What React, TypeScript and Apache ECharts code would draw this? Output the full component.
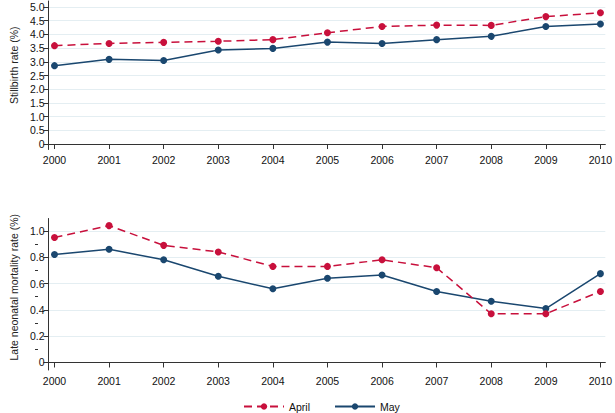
import React, { useEffect, useRef } from "react";
import * as echarts from "echarts";

const years = [2000, 2001, 2002, 2003, 2004, 2005, 2006, 2007, 2008, 2009, 2010];
const stillApril = [3.59, 3.67, 3.71, 3.75, 3.81, 4.06, 4.29, 4.34, 4.33, 4.65, 4.79];
const stillMay = [2.86, 3.09, 3.05, 3.43, 3.49, 3.72, 3.67, 3.81, 3.93, 4.29, 4.38];
const lateApril = [0.95, 1.04, 0.89, 0.84, 0.73, 0.73, 0.78, 0.72, 0.37, 0.37, 0.54];
const lateMay = [0.82, 0.86, 0.78, 0.655, 0.56, 0.64, 0.665, 0.54, 0.465, 0.41, 0.675];
const stillTicks = [0, 0.5, 1, 1.5, 2, 2.5, 3, 3.5, 4, 4.5, 5];
const lateTicks = [0, 0.2, 0.4, 0.6, 0.8, 1.0];
const lateMinorTicks = [0.1, 0.3, 0.5, 0.7, 0.9];

const RED = "#c8103c";
const BLUE = "#1a476f";
const FONT = "Liberation Sans";
const GRIDC = "#e4eef2";
const FS = 10.5;

const fmt = (v: number) => (Math.abs(v) < 1e-9 ? "0" : Number(v).toFixed(1));

function xAxisFor(gridIndex: number) {
  return {
    type: "value",
    gridIndex,
    min: 1999.89,
    max: 2010.09,
    axisLine: { show: true, lineStyle: { color: "#333", width: 1 } },
    axisTick: { show: true, customValues: years, length: 5, lineStyle: { color: "#333" } },
    axisLabel: {
      show: true,
      customValues: years,
      formatter: (v: number) => String(Math.round(v)),
      color: "#111",
      fontFamily: FONT,
      fontSize: FS,
      margin: 5,
    },
    splitLine: { show: false },
  };
}

export default function App() {
  const ref = useRef<HTMLDivElement>(null);
  useEffect(() => {
    if (!ref.current) return;
    const chart = echarts.init(ref.current, undefined, { renderer: "svg" });
    const pairs = (ys: number[]) => years.map((y, i) => [y, ys[i]]);
    const base = {
      type: "line",
      symbol: "circle",
      symbolSize: 7,
    };
    chart.setOption({
      animation: false,
      backgroundColor: "#fff",
      textStyle: { fontFamily: FONT },
      grid: [
        { left: 38, right: 7, top: 1, height: 148.5 },
        { left: 38, right: 7, top: 218.5, height: 151.5 },
        { left: 38, right: 7, top: 218.5, height: 151.5 },
      ],
      xAxis: [
        xAxisFor(0),
        xAxisFor(1),
        { type: "value", gridIndex: 2, min: 1999.89, max: 2010.09, show: false },
      ],
      yAxis: [
        {
          type: "value",
          gridIndex: 0,
          position: "left",
          min: -0.2,
          max: 5.22,
          name: "Stillbirth rate (%)",
          nameLocation: "middle",
          nameGap: 28,
          nameTextStyle: { fontFamily: FONT, fontSize: FS, color: "#222", padding: [0, 0, 0, 20] },
          axisLine: { show: true, lineStyle: { color: "#333" } },
          axisTick: { show: true, customValues: stillTicks, length: 5, lineStyle: { color: "#333" } },
          axisLabel: { customValues: stillTicks, formatter: fmt, color: "#111", fontSize: FS, fontFamily: FONT, margin: 4 },
          splitLine: { show: true, lineStyle: { color: GRIDC, width: 1 } },
        },
        {
          type: "value",
          gridIndex: 1,
          position: "left",
          min: -0.057,
          max: 1.094,
          name: "Late neonatal mortality rate (%)",
          nameLocation: "middle",
          nameGap: 28,
          nameTextStyle: { fontFamily: FONT, fontSize: FS, color: "#222", padding: [0, 0, 0, 14] },
          axisLine: { show: true, lineStyle: { color: "#333" } },
          axisTick: { show: true, customValues: lateTicks, length: 5, lineStyle: { color: "#333" } },
          axisLabel: { customValues: lateTicks, formatter: fmt, color: "#111", fontSize: FS, fontFamily: FONT, margin: 4 },
          splitLine: { show: true, lineStyle: { color: GRIDC, width: 1 } },
        },
        {
          type: "value",
          gridIndex: 2,
          position: "left",
          min: -0.057,
          max: 1.094,
          axisLine: { show: false },
          axisTick: { show: true, customValues: lateMinorTicks, length: 3, lineStyle: { color: "#333" } },
          axisLabel: { show: false },
          splitLine: { show: false },
        },
      ],
      legend: {
        top: 396,
        left: 238,
        itemWidth: 40,
        itemHeight: 8,
        itemGap: 24,
        textStyle: { fontFamily: FONT, fontSize: FS, color: "#111" },
        data: ["April", "May"],
      },
      series: [
        {
          ...base,
          name: "April",
          xAxisIndex: 0,
          yAxisIndex: 0,
          data: pairs(stillApril),
          itemStyle: { color: RED },
          lineStyle: { color: RED, width: 1.5, type: [8, 5] },
          z: 3,
        },
        {
          ...base,
          name: "May",
          xAxisIndex: 0,
          yAxisIndex: 0,
          data: pairs(stillMay),
          itemStyle: { color: BLUE },
          lineStyle: { color: BLUE, width: 1.5 },
          z: 2,
        },
        {
          ...base,
          name: "April",
          xAxisIndex: 1,
          yAxisIndex: 1,
          data: pairs(lateApril),
          itemStyle: { color: RED },
          lineStyle: { color: RED, width: 1.5, type: [8, 5] },
          z: 3,
        },
        {
          ...base,
          name: "May",
          xAxisIndex: 1,
          yAxisIndex: 1,
          data: pairs(lateMay),
          itemStyle: { color: BLUE },
          lineStyle: { color: BLUE, width: 1.5 },
          z: 2,
        },
      ],
    });
    return () => chart.dispose();
  }, []);
  return (
    <div
      ref={ref}
      style={{ position: "fixed", left: 0, top: 0, width: 615, height: 413 }}
    />
  );
}
